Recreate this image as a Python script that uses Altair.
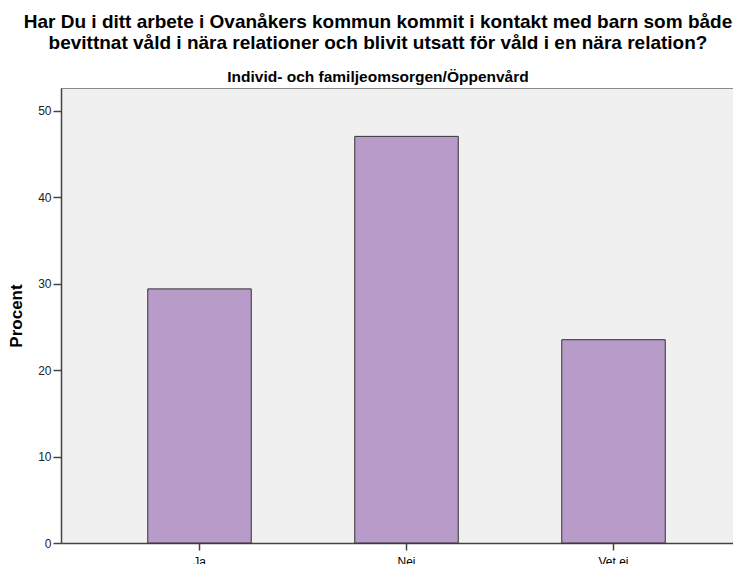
import altair as alt
import pandas as pd

categories = ["Ja", "Nei", "Vet ei"]
percent = [29.41, 47.06, 23.53]
y_ticks = [0, 10, 20, 30, 40, 50]
title_lines = [
    "Har Du i ditt arbete i Ovanåkers kommun kommit i kontakt med barn som både",
    "bevittnat våld i nära relationer och blivit utsatt för våld i en nära relation?",
]
subtitle_text = "Individ- och familjeomsorgen/Öppenvård"
y_title = "Procent"

df = pd.DataFrame({"svar": categories, "procent": percent})

FONT = "Liberation Sans"

chart = (
    alt.Chart(df)
    .mark_bar(fill="#b89bc9", stroke="#333333", strokeWidth=1)
    .encode(
        x=alt.X(
            "svar:N",
            sort=categories,
            scale=alt.Scale(paddingInner=0.5, paddingOuter=0.3732, align=0.5615),
            axis=alt.Axis(
                title=None,
                labelAngle=0,
                labelFont=FONT,
                labelFontSize=12,
                labelColor="#000000",
                labelPadding=6,
                tickSize=7,
                tickWidth=1.5,
                tickColor="#444444",
                domainColor="#444444",
                domainWidth=1.5,
            ),
        ),
        y=alt.Y(
            "procent:Q",
            scale=alt.Scale(domain=[0, 52.66], nice=False),
            axis=alt.Axis(
                values=y_ticks,
                title=y_title,
                titleFont=FONT,
                titleFontSize=17,
                titleFontWeight="bold",
                titleColor="#000000",
                titleX=-36,
                titleY=227.5,
                titleAngle=270,
                titleBaseline="bottom",
                titleAlign="center",
                labelFont=FONT,
                labelFontSize=12,
                labelColor="#222222",
                labelPadding=2,
                tickSize=8,
                tickWidth=1.5,
                tickColor="#444444",
                domainColor="#444444",
                domainWidth=1.5,
                grid=False,
            ),
        ),
    )
    .properties(
        width=672,
        height=455,
        autosize=alt.AutoSizeParams(type="none"),
        padding={"left": 53, "top": 80, "right": 0, "bottom": 21},
        title=alt.TitleParams(
            text=title_lines,
            subtitle=subtitle_text,
            anchor="middle",
            font=FONT,
            fontSize=19,
            fontWeight="bold",
            color="#000000",
            lineHeight=20.5,
            subtitleFont=FONT,
            subtitleFontSize=15.5,
            subtitleFontWeight="bold",
            subtitleColor="#000000",
            subtitlePadding=17,
            offset=3,
            dx=-19,
        ),
    )
    .configure_view(fill="#f0f0f0", stroke="#8a8a8a", strokeWidth=1)
)

chart.save("out.html", embed_options={"renderer": "svg", "actions": False})
